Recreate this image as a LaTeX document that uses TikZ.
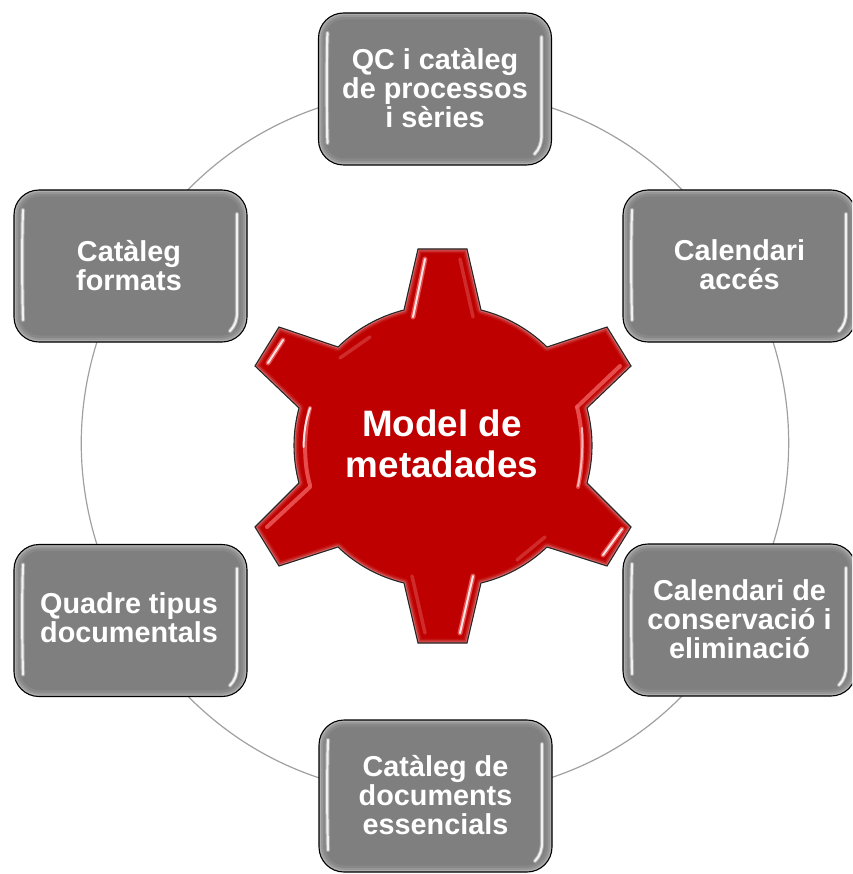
\documentclass[tikz,border=0pt]{standalone}
\usepackage{fontspec}
\setmainfont{Liberation Sans}
\usetikzlibrary{calc,backgrounds}
\definecolor{boxgray}{HTML}{7F7F7F}
\definecolor{gearred}{HTML}{BE0000}
\definecolor{ringgray}{HTML}{A0A0A0}
\definecolor{pinkhalo}{HTML}{EE5A5A}
\definecolor{dimred}{HTML}{D53A3A}
\newcommand{\gearoutline}{(418,249) -- (467,249) -- (481,310) to[gb] (547,347) -- (607,327) -- (631,366) -- (587,408) to[gb] (587,483) -- (631,527) -- (607,566) -- (547,547) to[gb] (481,583) -- (467,643) -- (418,643) -- (404,583) to[gb] (338,547) -- (279,566) -- (255,527) -- (299,483) to[gb] (299,408) -- (255,366) -- (279,327) -- (338,347) to[gb] (404,310) -- cycle}
\newcommand{\pb}[2]{($(path picture bounding box.north west)+(#1,#2)$)}
\newcommand{\lift}[1]{\rule[-#1pt]{0pt}{#1pt}}
\newcommand{\rk}{\hspace*{3pt}}
\tikzset{
  gb/.style={bend left=15,looseness=.88},
  ring/.style={draw=ringgray,line width=1.2pt,bend left=30,looseness=.95},
  glint/.style={sharp corners,white,line cap=round,line width=4.2pt,opacity=.3},
  glintcore/.style={sharp corners,white,line cap=round,line width=2.2pt,opacity=.85},
  redwide/.style={pinkhalo,line cap=round,line width=5pt,opacity=.85},
  redcore/.style={white,line cap=round,line width=2pt,opacity=.85},
  reddim/.style={dimred,line cap=round,line width=3.5pt,opacity=.75},
  bevelbox/.style={
    draw=black,line width=1.1pt,fill=boxgray,rounded corners=25pt,
    minimum width=233pt,minimum height=152pt,inner sep=0pt,
    text=white,align=center,font=\fontsize{28.8}{29}\selectfont\bfseries,
    path picture={
      \draw[white,opacity=.07,line width=13pt,rounded corners=25pt] (path picture bounding box.north west) rectangle (path picture bounding box.south east);
      \draw[white,opacity=.12,line width=8pt,rounded corners=25pt] (path picture bounding box.north west) rectangle (path picture bounding box.south east);
      \draw[white,opacity=.22,line width=4pt,rounded corners=25pt] (path picture bounding box.north west) rectangle (path picture bounding box.south east);
      \draw[glint] \pb{9}{20} .. controls \pb{8}{40} and \pb{8}{100} .. \pb{9}{130};
      \draw[glintcore] \pb{9}{20} .. controls \pb{8}{40} and \pb{8}{100} .. \pb{9}{130};
      \draw[glint] \pb{223}{24} -- \pb{223}{122} .. controls \pb{223}{130} and \pb{221}{136} .. \pb{216}{141};
      \draw[glintcore] \pb{223}{24} -- \pb{223}{122} .. controls \pb{223}{130} and \pb{221}{136} .. \pb{216}{141};
    }
  }
}
\begin{document}
\begin{tikzpicture}[x=1pt,y=-1pt]
\useasboundingbox (0,0) rectangle (852,874);
\clip (0,0) rectangle (852,874);
% outer boxes
\node[bevelbox] (qc) at (435,89) {QC i catàleg\\de processos\\i sèries\lift{2}};
\node[bevelbox] (acces) at (739.5,266) {Calendari\\accés\lift{2}};
\node[bevelbox] (cons) at (739.5,620) {Calendari de\\conservació i\\eliminació\lift{2}};
\node[bevelbox] (ess) at (435.5,796) {Catàleg de\\documents\\essencials\lift{2}};
\node[bevelbox] (quad) at (130.5,620.5) {Quadre tipus\rk\\documentals\rk\lift{6}};
\node[bevelbox] (form) at (130.5,266) {Catàleg\rk\\formats\rk\lift{2}};
% ring
\begin{scope}[on background layer]
  \draw[ring] (qc.center) to (acces.center);
  \draw[ring] (acces.center) to (cons.center);
  \draw[ring] (cons.center) to (ess.center);
  \draw[ring] (ess.center) to (quad.center);
  \draw[ring] (quad.center) to (form.center);
  \draw[ring] (form.center) to (qc.center);
\end{scope}
% gear
\fill[gearred] \gearoutline;
\begin{scope}
  \clip \gearoutline;
  \draw[white,opacity=.07,line width=9pt,line join=round] \gearoutline;
  \draw[white,opacity=.13,line width=6pt,line join=round] \gearoutline;
  \draw[white,opacity=.25,line width=3pt,line join=round] \gearoutline;
  % highlights
  \draw[redwide] (425,259) -- (413,317); \draw[redcore] (425,259) -- (413,317);
  \draw[reddim] (460,259) -- (473,317);
  \draw[redwide] (283,340) -- (268,363); \draw[redcore] (283,340) -- (268,363);
  \draw[reddim] (340,358) -- (370,337);
  \draw[redwide,line width=4pt] (620,366) -- (577,407);
  \draw[redwide,line width=4pt] (310,408) .. controls (304,430) and (303,462) .. (310,485);
  \draw[redcore] (310,408) .. controls (306,420) and (304,430) .. (303.5,447);
  \draw[redwide,line width=4pt] (577,407) .. controls (583,430) and (584,462) .. (578,487);
  \draw[redcore,opacity=.6] (582,428) .. controls (583,445) and (582,465) .. (578,486);
  \draw[redwide,line width=4pt] (310,487) -- (267,527);
  \draw[redwide] (622,529) -- (603,555); \draw[redcore] (622,529) -- (603,555);
  \draw[reddim] (545,537) -- (517,560);
  \draw[redwide] (473,576) -- (460,633); \draw[redcore] (473,576) -- (460,633);
  \draw[reddim] (412,576) -- (425,633);
\end{scope}
\draw[black!85,line width=1.1pt,line join=miter] \gearoutline;
\node[text=white,align=center,font=\fontsize{36.8}{41}\selectfont\bfseries,inner sep=0pt] (model) at (442,445.5) {Model de\\metadades\lift{3}};
\end{tikzpicture}
\end{document}
